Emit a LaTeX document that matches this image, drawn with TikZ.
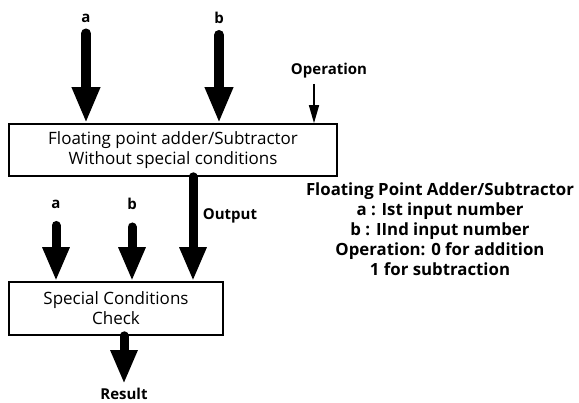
\documentclass[tikz,border=0pt]{standalone}
\usepackage{fontspec}
\setmainfont{Open Sans}
\usetikzlibrary{arrows.meta}
\begin{document}
\begin{tikzpicture}[x=1pt,y=-1pt,
  block/.style={draw=black,line width=1.6pt,inner sep=0pt,align=center,
    font=\fontsize{17}{20}\selectfont},
  lbl/.style={inner sep=1pt,font=\bfseries\fontsize{15}{17}\selectfont},
  bigarrow/.style={line width=10pt,line cap=round,
    -{Triangle[width=26pt,length=36pt]}},
  midarrow/.style={line width=9pt,line cap=round,
    -{Triangle[width=25pt,length=34pt]}},
  thinarrow/.style={line width=1.5pt,-{Triangle[width=10pt,length=18pt]}},
  legend/.style={align=center,inner sep=0pt,
    font=\bfseries\fontsize{16.8}{20}\selectfont}]
\useasboundingbox[fill=white] (0,0) rectangle (579,403);

% processing blocks
\node[block,minimum width=328pt,minimum height=52pt] (adder) at (173,150)
  {Floating point adder/Subtractor\\Without special conditions};
\node[block,minimum width=214pt,minimum height=53pt] (check) at (116,308.5)
  {Special Conditions\\Check};

% input labels
\node[lbl] (ina) at (86,18) {a};
\node[lbl] (inb) at (219,18) {b};
\node[lbl] (op) at (329,71) {Operation};
\node[lbl] (ca) at (56,204) {a};
\node[lbl] (cb) at (132,204) {b};
\node[lbl] (out) at (230,216) {Output};
\node[lbl] (res) at (124,394) {Result};

% inputs of the adder
\draw[bigarrow] ([yshift=-10pt]ina.south) -- (ina.south |- adder.north);
\draw[bigarrow] ([yshift=-10pt]inb.south) -- (inb.south |- adder.north);
\coordinate (opstart) at (314,84);
\draw[thinarrow] (opstart) -- (opstart |- adder.north);

% inputs of the check block
\draw[midarrow] ([yshift=-16pt]ca.south) -- (ca.south |- check.north);
\draw[midarrow] ([yshift=-16pt]cb.south) -- (cb.south |- check.north);
\coordinate (outx) at (193,0);
\draw[midarrow] (outx |- adder.south) -- (outx |- check.north);

% result
\coordinate (resx) at (124,0);
\draw[midarrow] (resx |- check.south) -- ([yshift=3pt]res.north);

% legend
\node[legend] (key) at (440,229)
  {Floating Point Adder/Subtractor\\
   a : Ist input number\\
   b : IInd input number\\
   Operation: 0 for addition\\
   1 for subtraction};
\end{tikzpicture}
\end{document}
